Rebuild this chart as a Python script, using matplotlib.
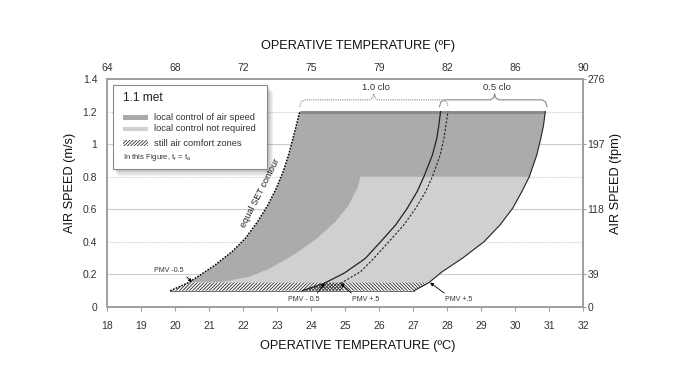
import matplotlib
matplotlib.use("Agg")
import matplotlib.pyplot as plt
from matplotlib.patches import Polygon, Rectangle

plt.rcParams['font.family'] = ['Liberation Sans', 'DejaVu Sans']
plt.rcParams['hatch.linewidth'] = 0.6

# curves: operative temperature (C) vs air speed (m/s)
set_t = [19.86, 20.4, 20.74, 21.18, 21.68, 22.07, 22.43, 22.73, 22.98, 23.18, 23.34, 23.47, 23.57, 23.67]
set_v = [0.10, 0.15, 0.196, 0.258, 0.340, 0.422, 0.524, 0.626, 0.729, 0.831, 0.933, 1.036, 1.117, 1.20]

right_t = [27.03, 27.47, 27.86, 28.45, 29.09, 29.56, 29.93, 30.2, 30.42, 30.64, 30.76, 30.84, 30.89]
right_v = [0.10, 0.15, 0.217, 0.299, 0.401, 0.504, 0.606, 0.708, 0.80, 0.933, 1.036, 1.117, 1.20]

solid_t = [23.74, 24.38, 24.97, 25.46, 25.6, 26.05, 26.49, 26.83, 27.12, 27.32, 27.57, 27.7, 27.76, 27.81]
solid_v = [0.10, 0.145, 0.207, 0.278, 0.299, 0.401, 0.504, 0.606, 0.708, 0.80, 0.933, 1.036, 1.117, 1.20]

dashed_t = [24.87, 25.46, 25.85, 26.29, 26.73, 27.08, 27.37, 27.57, 27.8, 27.91, 27.97, 28.03]
dashed_v = [0.145, 0.217, 0.299, 0.401, 0.504, 0.606, 0.708, 0.80, 0.933, 1.036, 1.117, 1.20]

light_t = [21.3, 22.21, 22.8, 23.49, 24.18, 24.72, 25.11, 25.36, 25.46]
light_v = [0.15, 0.187, 0.238, 0.32, 0.422, 0.524, 0.626, 0.729, 0.80]

# still air zones (1.0 clo and 0.5 clo)
still_10_t = [19.86, 20.4, 25.0, 24.9]
still_10_v = [0.10, 0.15, 0.15, 0.10]
still_05_t = [23.74, 24.45, 27.47, 27.03]
still_05_v = [0.10, 0.15, 0.15, 0.10]

c_ticks = [18, 19, 20, 21, 22, 23, 24, 25, 26, 27, 28, 29, 30, 31, 32]
f_pos = [18, 20, 22, 24, 26, 28, 30, 32]
f_labels = ['64', '68', '72', '75', '79', '82', '86', '90']
ms_ticks = [0, 0.2, 0.4, 0.6, 0.8, 1, 1.2, 1.4]
ms_labels = ['0', '0.2', '0.4', '0.6', '0.8', '1', '1.2', '1.4']
fpm_pos = [0, 0.2, 0.6, 1.0, 1.4]
fpm_labels = ['0', '39', '118', '197', '276']

clo_names = ['1.0 clo', '0.5 clo']
clo_start = [23.67, 27.78]
clo_end = [28.03, 30.94]
clo_mid = [25.85, 29.4]

DARK = '#ababab'
LIGHT = '#d0d0d0'
TXT = '#333333'

fig = plt.figure(figsize=(6.88, 3.81), dpi=100)
ax = fig.add_axes([107/688, 1-307/381, 476/688, 228/381])
ax.set_xlim(18, 32)
ax.set_ylim(0, 1.4)

# grid
for g in [0.2, 0.6, 1.0]:
    ax.axhline(g, color='#cccccc', lw=0.8, zorder=0)
for g in [0.4, 0.8, 1.2]:
    ax.axhline(g, color='#cccccc', lw=0.8, ls=(0, (1, 1)), zorder=0)

# dark region: between equal SET contour and 0.5 clo boundary
dark_pts = list(zip(set_t[1:], set_v[1:])) + list(zip(right_t[1:], right_v[1:]))[::-1]
ax.add_patch(Polygon(dark_pts, closed=True, fc=DARK, ec='none', zorder=1))
ax.plot([set_t[-1], right_t[-1]], [set_v[-1], right_v[-1]], color='#888888', lw=2, zorder=2,
        solid_capstyle='butt')

# light region: below 0.8 m/s
r_low = [(t, v) for t, v in zip(right_t, right_v) if 0.15 <= v <= 0.8]
light_pts = list(zip(light_t, light_v)) + r_low[::-1]
ax.add_patch(Polygon(light_pts, closed=True, fc=LIGHT, ec='none', zorder=2))

# still air zones
zone_a = list(zip(still_10_t, still_10_v))
zone_b = list(zip(still_05_t, still_05_v))
ax.add_patch(Polygon(zone_a, closed=True, fc='white', ec='none', zorder=2.5))
ax.add_patch(Polygon(zone_b, closed=True, fc='white', ec='none', zorder=2.5))
ax.add_patch(Polygon(zone_a, closed=True, fill=False, hatch='//////////', ec='#222222', lw=0, zorder=3))
ax.add_patch(Polygon(zone_b, closed=True, fill=False, hatch='\\' * 10, ec='#222222', lw=0, zorder=3))
ax.plot([still_10_t[0], still_05_t[-1]], [0.1, 0.1], color='#555555', lw=0.6, zorder=3)

# boundary lines
ax.plot(set_t, set_v, color='black', lw=1.1, ls=(0, (1, 1)), zorder=4)
ax.plot(right_t, right_v, color='#222222', lw=0.8, zorder=4)
ax.plot(solid_t, solid_v, color='#222222', lw=0.9, zorder=4)
ax.plot(dashed_t, dashed_v, color='#222222', lw=0.8, ls=(0, (2, 1.5)), zorder=4)

# clo brackets
for name, a, b, m, st in zip(clo_names, clo_start, clo_end, clo_mid, [(0, (1, 1)), '-']):
    bx = [a, a + 0.04, a + 0.15, m - 0.12, m - 0.03, m, m + 0.03, m + 0.12, b - 0.15, b - 0.04, b]
    by = [1.23, 1.26, 1.272, 1.272, 1.285, 1.31, 1.285, 1.272, 1.272, 1.26, 1.23]
    ax.plot(bx, by, color='#888888', lw=0.8, ls=st, zorder=4, clip_on=False)
    ax.text(m + 0.07, 1.348, name, ha='center', va='center', fontsize=6.8, color=TXT)

ax.text(22.52, 0.70, 'equal SET contour', rotation=63, ha='center', va='center',
        fontsize=6.6, color='#222222', zorder=5)

# PMV labels
arr = dict(arrowstyle='-|>', lw=0.6, color='black', mutation_scale=5, shrinkA=0, shrinkB=0)
ax.annotate('PMV -0.5', xy=(20.5, 0.153), xytext=(19.83, 0.223), fontsize=5, ha='center', va='center',
            color=TXT, arrowprops=dict(arr, relpos=(1, 0)), zorder=5)
ax.annotate('PMV - 0.5', xy=(24.4, 0.145), xytext=(23.8, 0.047), fontsize=5, ha='center', va='center',
            color=TXT, arrowprops=dict(arr, relpos=(0.85, 1)), zorder=5)
ax.annotate('PMV +.5', xy=(24.87, 0.145), xytext=(25.6, 0.047), fontsize=5, ha='center', va='center',
            color=TXT, arrowprops=dict(arr, relpos=(0.1, 1)), zorder=5)
ax.annotate('PMV +.5', xy=(27.5, 0.15), xytext=(28.35, 0.047), fontsize=5, ha='center', va='center',
            color=TXT, arrowprops=dict(arr, relpos=(0.1, 1)), zorder=5)

# legend box with soft shadow
lx0, lx1, ly0, ly1 = 18.18, 22.72, 0.847, 1.363
for k in range(5):
    off = 0.03 * (k + 1)
    ax.add_patch(Rectangle((lx0 + off, ly0 - off * 0.3), lx1 - lx0, ly1 - ly0, fc='black',
                           ec='none', alpha=0.05, zorder=9))
ax.add_patch(Rectangle((lx0, ly0), lx1 - lx0, ly1 - ly0, fc='white', ec='#8a8a8a', lw=0.8, zorder=10))
ax.text(18.47, 1.283, '1.1 met', fontsize=8.6, ha='left', va='center', color='#222222', zorder=11)
ax.add_patch(Rectangle((18.47, 1.151), 0.74, 0.03, fc=DARK, ec='none', zorder=11))
ax.add_patch(Rectangle((18.47, 1.078), 0.74, 0.03, fc=LIGHT, ec='none', zorder=11))
ax.add_patch(Rectangle((18.47, 0.99), 0.74, 0.034, fill=False, hatch='//////////', ec='#333333', lw=0,
                       zorder=11))
ax.text(19.39, 1.166, 'local control of air speed', fontsize=6.7, ha='left', va='center', color=TXT, zorder=11)
ax.text(19.39, 1.093, 'local control not required', fontsize=6.7, ha='left', va='center', color=TXT, zorder=11)
ax.text(19.39, 1.007, 'still air comfort zones', fontsize=6.7, ha='left', va='center', color=TXT, zorder=11)
ax.text(18.47, 0.915, r'In this Figure, t$_\mathregular{r}$ = t$_\mathregular{a}$', fontsize=5.5,
        ha='left', va='center', color=TXT, zorder=11)

# axes styling
for sp in ax.spines.values():
    sp.set_color('#a0a0a0')
    sp.set_linewidth(1.2)
ax.set_xticks(c_ticks)
ax.set_xticklabels([str(c) for c in c_ticks])
ax.set_yticks(ms_ticks)
ax.set_yticklabels(ms_labels)
ax.tick_params(axis='x', length=3, width=0.8, color='#a0a0a0', pad=7, labelsize=7.5, labelcolor=TXT)
ax.tick_params(axis='y', length=0, pad=7, labelsize=7.5, labelcolor=TXT)

axr = ax.twinx()
axr.set_ylim(0, 1.4)
axr.set_yticks(fpm_pos)
axr.set_yticklabels(fpm_labels)
axr.tick_params(axis='y', length=2, width=0.8, color='#a0a0a0', pad=1, labelsize=7.5, labelcolor=TXT)
axt = ax.twiny()
axt.set_xlim(18, 32)
axt.set_xticks(f_pos)
axt.set_xticklabels(f_labels)
axt.tick_params(axis='x', length=0, pad=4.5, labelsize=7.5, labelcolor=TXT)
for a in (axr, axt):
    for sp in a.spines.values():
        sp.set_color('#a0a0a0')
        sp.set_linewidth(1.2)

fig.text(358/688, 1-346/381, 'OPERATIVE TEMPERATURE (ºC)', ha='center', va='center', fontsize=9.2, color='#111111')
fig.text(358/688, 1-46/381, 'OPERATIVE TEMPERATURE (ºF)', ha='center', va='center', fontsize=9.2, color='#111111')
fig.text(70/688, 1-183/381, 'AIR SPEED (m/s)', ha='center', va='center', rotation=90, fontsize=9.2, color='#111111')
fig.text(616/688, 1-183/381, 'AIR SPEED (fpm)', ha='center', va='center', rotation=90, fontsize=9.2, color='#111111')

fig.savefig('out.png', dpi=100)
